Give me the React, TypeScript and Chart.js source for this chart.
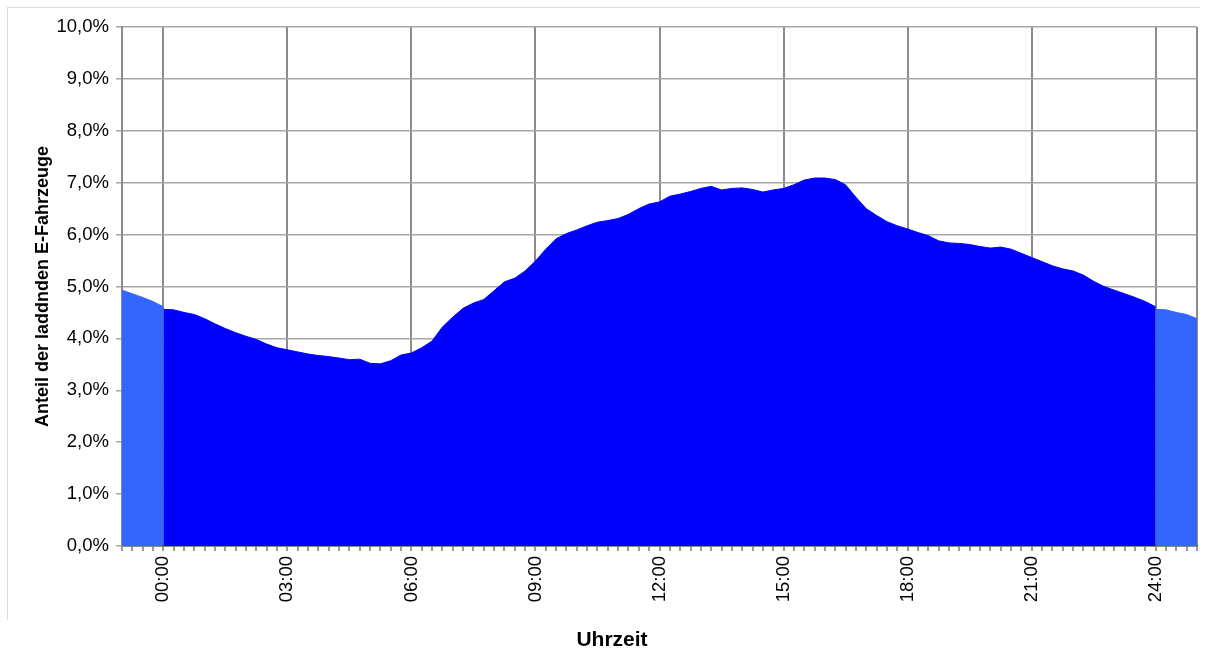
import React, { useEffect, useRef } from "react";
import { Chart, registerables } from "chart.js";

Chart.register(...registerables);

// Quarter-hour time grid 00:00 .. 24:00 (hours)
const STEP_HOURS = 0.25;

// Share of charging EVs (%), every 15 minutes from 00:00 to 24:00
const shareValues: number[] = [
  4.56, 4.55, 4.50, 4.46, 4.38, 4.28, 4.19, 4.11, // 00:00 - 01:45
  4.04, 3.98, 3.89, 3.82, 3.78, 3.74, 3.70, 3.67, // 02:00 - 03:45
  3.65, 3.62, 3.59, 3.60, 3.52, 3.51, 3.57, 3.68, // 04:00 - 05:45
  3.72, 3.82, 3.95, 4.22, 4.41, 4.58, 4.68, 4.75, // 06:00 - 07:45
  4.92, 5.09, 5.16, 5.30, 5.49, 5.72, 5.92, 6.02, // 08:00 - 09:45
  6.09, 6.17, 6.24, 6.27, 6.31, 6.39, 6.50, 6.59, // 10:00 - 11:45
  6.63, 6.74, 6.78, 6.83, 6.89, 6.93, 6.86, 6.89, // 12:00 - 13:45
  6.90, 6.87, 6.82, 6.86, 6.89, 6.96, 7.05, 7.09, // 14:00 - 15:45
  7.09, 7.06, 6.96, 6.72, 6.50, 6.37, 6.25, 6.17, // 16:00 - 17:45
  6.11, 6.04, 5.98, 5.88, 5.84, 5.83, 5.81, 5.77, // 18:00 - 19:45
  5.74, 5.76, 5.72, 5.64, 5.56, 5.48, 5.40, 5.34, // 20:00 - 21:45
  5.30, 5.22, 5.10, 5.00, 4.93, 4.86, 4.79, 4.71, // 22:00 - 23:45
  4.61, // 24:00
];

const xTickLabels = ["00:00", "03:00", "06:00", "09:00", "12:00", "15:00", "18:00", "21:00", "24:00"];
const xLabelHours = [0, 3, 6, 9, 12, 15, 18, 21, 24];
const yTickMax = 10;

const X_MIN = -1;
const X_MAX = 25;

const FONT_FAMILY = "'Liberation Sans', Arial, sans-serif";

export default function App() {
  const canvasRef = useRef<HTMLCanvasElement | null>(null);

  useEffect(() => {
    if (!canvasRef.current) return;

    const mainPts = shareValues.map((v, i) => ({ x: i * STEP_HOURS, y: v }));
    const perHour = Math.round(1 / STEP_HOURS);
    const n = shareValues.length - 1;
    // wrap-around: previous day's last hour and next day's first hour
    const leftPts = shareValues
      .slice(n - perHour, n + 1)
      .map((v, j) => ({ x: X_MIN + j * STEP_HOURS, y: v }));
    const rightPts = shareValues
      .slice(0, perHour + 1)
      .map((v, j) => ({ x: 24 + j * STEP_HOURS, y: v }));

    const xTitlePlugin = {
      id: "xTitle",
      afterDraw(chart: any) {
        const c = chart.ctx;
        c.save();
        c.font = "bold 21px " + FONT_FAMILY;
        c.fillStyle = "#000";
        c.textAlign = "center";
        c.textBaseline = "middle";
        c.fillText("Uhrzeit", 612, 640);
        c.restore();
      },
    };

    const isMajor = (v: number) => xLabelHours.indexOf(v) >= 0;

    const chart = new Chart(canvasRef.current, {
      type: "line",
      data: {
        datasets: [
          {
            data: leftPts,
            fill: "origin",
            backgroundColor: "#3366FF",
            borderColor: "#3366FF",
            borderWidth: 1,
            pointRadius: 0,
            tension: 0,
          },
          {
            data: mainPts,
            fill: "origin",
            backgroundColor: "#0000FF",
            borderColor: "#0000FF",
            borderWidth: 1,
            pointRadius: 0,
            tension: 0,
          },
          {
            data: rightPts,
            fill: "origin",
            backgroundColor: "#3366FF",
            borderColor: "#3366FF",
            borderWidth: 1,
            pointRadius: 0,
            tension: 0,
          },
        ],
      },
      options: {
        responsive: false,
        animation: false,
        devicePixelRatio: 1,
        layout: { padding: { top: 27, right: 9, left: 0, bottom: 0 } },
        plugins: {
          legend: { display: false },
          tooltip: { enabled: false },
        },
        scales: {
          x: {
            type: "linear",
            min: X_MIN,
            max: X_MAX,
            afterFit: (s: any) => {
              s.height = 105;
              s.paddingLeft = 0;
              s.paddingRight = 0;
            },
            border: { display: true, color: "#444", width: 1.5 },
            grid: {
              color: (ctx: any) => {
                const v = ctx.tick ? ctx.tick.value : NaN;
                return isMajor(v) || v === X_MIN || v === X_MAX ? "#8c8c8c" : "rgba(0,0,0,0)";
              },
              lineWidth: 2,
              tickColor: "#9a9a9a",
              tickLength: 5,
              drawTicks: true,
            },
            ticks: {
              stepSize: STEP_HOURS,
              autoSkip: false,
              minRotation: 90,
              maxRotation: 90,
              padding: 5,
              color: "#000",
              font: { size: 18.5, family: FONT_FAMILY },
              callback: (value: any) => {
                const idx = xLabelHours.indexOf(Number(value));
                return idx >= 0 ? xTickLabels[idx] : "";
              },
            },
          },
          y: {
            min: 0,
            max: yTickMax,
            afterFit: (s: any) => {
              s.width = 122;
            },
            border: { display: true, color: "#8c8c8c", width: 2 },
            grid: {
              color: "#a6a6a6",
              lineWidth: 1.5,
              tickColor: "#a6a6a6",
              tickLength: 6,
            },
            ticks: {
              stepSize: 1,
              padding: 7,
              color: "#000",
              font: { size: 18.5, family: FONT_FAMILY },
              callback: (value: any) => Number(value).toFixed(1).replace(".", ",") + "%",
            },
            title: {
              display: true,
              text: "Anteil der laddnden E-Fahrzeuge",
              color: "#000",
              font: { size: 18, weight: "bold", family: FONT_FAMILY },
              padding: { top: 32, bottom: 0 },
            },
          },
        },
      },
      plugins: [xTitlePlugin],
    } as any);

    return () => chart.destroy();
  }, []);

  return (
    <div style={{ position: "fixed", left: 0, top: 0, width: 1206, height: 651, background: "#fff" }}>
      <div
        style={{
          position: "absolute",
          left: 7,
          top: 7,
          width: 1192,
          height: 612,
          borderLeft: "1px solid #dcdcdc",
          borderTop: "1px solid #dcdcdc",
        }}
      />
      <canvas ref={canvasRef} width={1206} height={651} style={{ position: "absolute", left: 0, top: 0 }} />
    </div>
  );
}
